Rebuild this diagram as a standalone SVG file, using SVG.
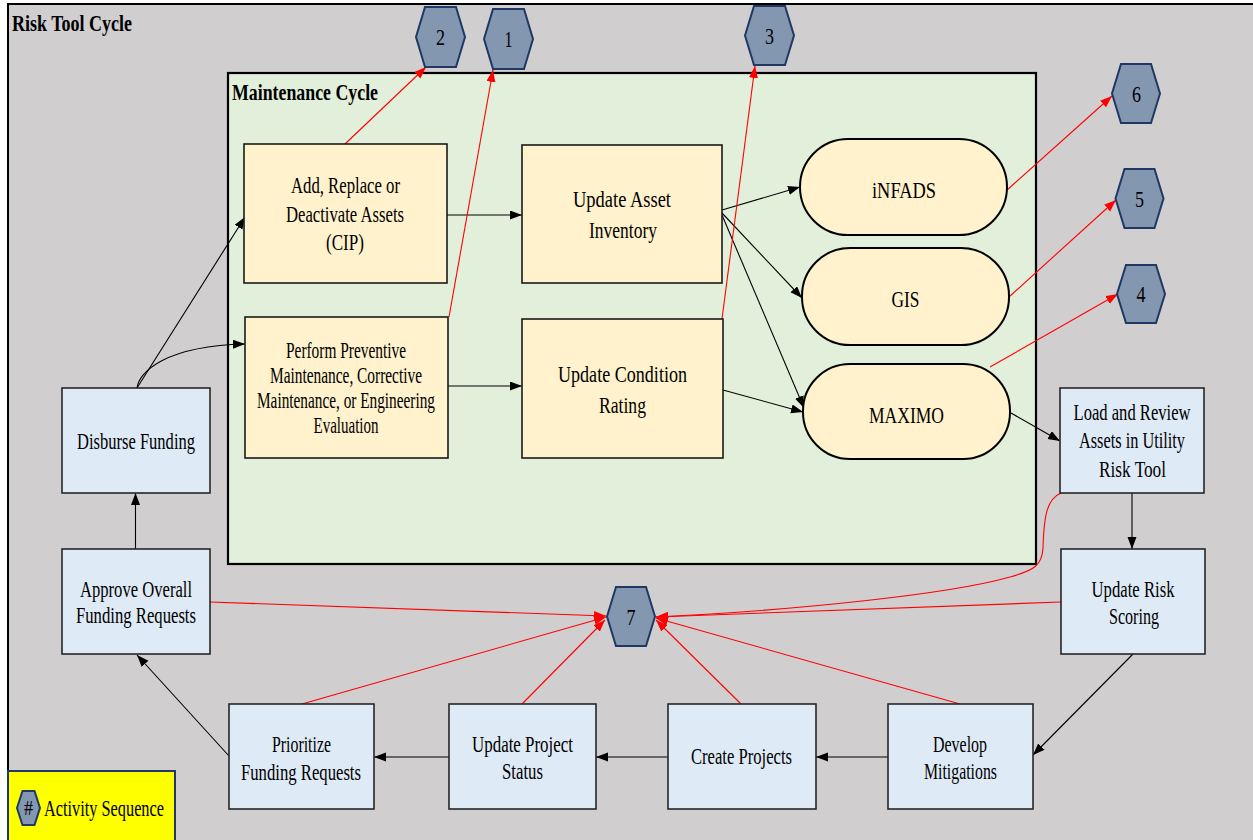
<svg xmlns="http://www.w3.org/2000/svg" width="1253" height="840" viewBox="0 0 1253 840">
  <style>
    .lbl { font-family: "Liberation Serif", "Times New Roman", serif; font-size: 24px; fill: #000; text-anchor: middle; }
    .sm { font-size: 23px; }
    .ttl { font-family: "Liberation Serif", "Times New Roman", serif; font-size: 23px; font-weight: bold; fill: #000; }
    .num { font-family: "Liberation Serif", "Times New Roman", serif; font-size: 24px; fill: #000; text-anchor: middle; }
    .task { fill: #FFF2CC; stroke: #1a1a1a; stroke-width: 1.6; }
    .sys { fill: #FFF2CC; stroke: #000; stroke-width: 2; }
    .step { fill: #DEEAF6; stroke: #262626; stroke-width: 1.6; }
    .hex { fill: #8497B0; stroke: #1F3864; stroke-width: 2; }
    .flow { fill: none; stroke: #000; stroke-width: 1.1; marker-end: url(#arrowBlack); }
    .seq { fill: none; stroke: #FF0000; stroke-width: 1.1; marker-end: url(#arrowRed); }
  </style>
  <defs>
    <marker id="arrowBlack" markerUnits="userSpaceOnUse" markerWidth="13" markerHeight="10" refX="12" refY="4.5" orient="auto">
      <path d="M0,0 L12,4.5 L0,9 z" fill="#000"/>
    </marker>
    <marker id="arrowRed" markerUnits="userSpaceOnUse" markerWidth="13" markerHeight="10" refX="12" refY="4.5" orient="auto">
      <path d="M0,0 L12,4.5 L0,9 z" fill="#FF0000"/>
    </marker>
  </defs>

  <rect width="1253" height="840" fill="#FFFFFF"/>

  <!-- outer risk tool frame -->
  <g id="risk-tool-cycle">
    <rect x="8" y="4" width="1260" height="850" fill="#D0CECF" stroke="#000" stroke-width="2"/>
    <text class="ttl" x="12" y="31" textLength="120" lengthAdjust="spacingAndGlyphs">Risk Tool Cycle</text>
  </g>

  <!-- maintenance cycle panel -->
  <g id="maintenance-cycle">
    <rect x="228" y="73" width="808" height="491" fill="#E2EFDA" stroke="#000" stroke-width="2.2"/>
    <text class="ttl" x="232" y="100" textLength="146" lengthAdjust="spacingAndGlyphs">Maintenance Cycle</text>
  </g>

  <!-- connectors -->
  <g id="connectors">
    <!-- process flow -->
    <line class="flow" x1="447" y1="215" x2="522" y2="215"/>
    <line class="flow" x1="448" y1="386" x2="522" y2="386"/>
    <line class="flow" x1="137" y1="388" x2="245" y2="217"/>
    <path class="flow" d="M137,388 C139,372 165,346 245,344"/>
    <line class="flow" x1="135.5" y1="549" x2="135.5" y2="493"/>
    <line class="flow" x1="229" y1="756" x2="137" y2="655"/>
    <line class="flow" x1="449" y1="757" x2="374" y2="757"/>
    <line class="flow" x1="668" y1="757" x2="596" y2="757"/>
    <line class="flow" x1="888" y1="757" x2="816" y2="757"/>
    <line class="flow" x1="1133" y1="654" x2="1033" y2="755"/>
    <line class="flow" x1="1132" y1="493" x2="1132" y2="549"/>
    <line class="flow" x1="1011" y1="413" x2="1060" y2="441"/>
    <line class="flow" x1="722" y1="210" x2="800" y2="187"/>
    <line class="flow" x1="722" y1="213" x2="802" y2="298"/>
    <line class="flow" x1="722" y1="215" x2="804" y2="408"/>
    <line class="flow" x1="723" y1="390" x2="803" y2="412"/>

    <!-- activity sequence links -->
    <line class="seq" x1="345" y1="144" x2="426" y2="67"/>
    <line class="seq" x1="449" y1="317" x2="493" y2="70"/>
    <line class="seq" x1="722" y1="319" x2="755" y2="66"/>
    <line class="seq" x1="1007" y1="190" x2="1112" y2="96"/>
    <line class="seq" x1="1009" y1="297" x2="1116" y2="200"/>
    <line class="seq" x1="990" y1="367" x2="1118" y2="294"/>
    <path class="seq" d="M1061,493 C1047,499 1044,515 1043,548 C1042,565 1035,570 1010,577 C950,594 800,610 656,617"/>
    <line class="seq" x1="1061" y1="602" x2="656" y2="617"/>
    <line class="seq" x1="960" y1="704" x2="656" y2="618"/>
    <line class="seq" x1="741" y1="704" x2="656" y2="620"/>
    <line class="seq" x1="522" y1="704" x2="605" y2="620"/>
    <line class="seq" x1="302" y1="704" x2="606" y2="617"/>
    <line class="seq" x1="210" y1="602" x2="606" y2="616"/>
  </g>

  <!-- maintenance tasks -->
  <g id="node-add-replace">
    <rect class="task" x="244" y="144" width="203" height="139"/>
    <text class="lbl" x="345.5" y="193" textLength="109" lengthAdjust="spacingAndGlyphs">Add, Replace or</text>
    <text class="lbl" x="345" y="222" textLength="118" lengthAdjust="spacingAndGlyphs">Deactivate  Assets</text>
    <text class="lbl" x="345" y="250" textLength="38" lengthAdjust="spacingAndGlyphs">(CIP)</text>
  </g>
  <g id="node-perform-maintenance">
    <rect class="task" x="245" y="317" width="203" height="141"/>
    <text class="lbl sm" x="346" y="358" textLength="120" lengthAdjust="spacingAndGlyphs">Perform Preventive</text>
    <text class="lbl sm" x="346" y="383" textLength="152" lengthAdjust="spacingAndGlyphs">Maintenance, Corrective</text>
    <text class="lbl sm" x="346" y="408" textLength="178" lengthAdjust="spacingAndGlyphs">Maintenance, or Engineering</text>
    <text class="lbl sm" x="346" y="433" textLength="65" lengthAdjust="spacingAndGlyphs">Evaluation</text>
  </g>
  <g id="node-update-asset-inventory">
    <rect class="task" x="522" y="145" width="200" height="138"/>
    <text class="lbl" x="622" y="207" textLength="98" lengthAdjust="spacingAndGlyphs">Update Asset</text>
    <text class="lbl" x="623" y="238" textLength="68" lengthAdjust="spacingAndGlyphs">Inventory</text>
  </g>
  <g id="node-update-condition-rating">
    <rect class="task" x="522" y="319" width="201" height="139"/>
    <text class="lbl" x="622.5" y="382" textLength="129" lengthAdjust="spacingAndGlyphs">Update Condition</text>
    <text class="lbl" x="622.5" y="413" textLength="47" lengthAdjust="spacingAndGlyphs">Rating</text>
  </g>

  <!-- systems of record -->
  <g id="node-infads">
    <rect class="sys" x="800" y="139" width="207" height="96" rx="48" ry="48"/>
    <text class="lbl" x="904" y="198" textLength="64" lengthAdjust="spacingAndGlyphs">iNFADS</text>
  </g>
  <g id="node-gis">
    <rect class="sys" x="802" y="248" width="207" height="97" rx="48" ry="48"/>
    <text class="lbl" x="905.5" y="307" textLength="28" lengthAdjust="spacingAndGlyphs">GIS</text>
  </g>
  <g id="node-maximo">
    <rect class="sys" x="803" y="364" width="207" height="95" rx="47" ry="47"/>
    <text class="lbl" x="906.5" y="423" textLength="75" lengthAdjust="spacingAndGlyphs">MAXIMO</text>
  </g>

  <!-- risk tool steps -->
  <g id="node-disburse-funding">
    <rect class="step" x="62" y="388" width="148" height="105"/>
    <text class="lbl" x="136" y="449" textLength="118" lengthAdjust="spacingAndGlyphs">Disburse  Funding</text>
  </g>
  <g id="node-approve-funding">
    <rect class="step" x="62" y="549" width="148" height="105"/>
    <text class="lbl" x="136" y="597" textLength="112" lengthAdjust="spacingAndGlyphs">Approve  Overall</text>
    <text class="lbl" x="136" y="623" textLength="120" lengthAdjust="spacingAndGlyphs">Funding  Requests</text>
  </g>
  <g id="node-load-review">
    <rect class="step" x="1060" y="388" width="144" height="105"/>
    <text class="lbl" x="1132" y="420" textLength="117" lengthAdjust="spacingAndGlyphs">Load and Review</text>
    <text class="lbl" x="1132" y="448" textLength="106" lengthAdjust="spacingAndGlyphs">Assets in Utility</text>
    <text class="lbl" x="1132.5" y="477" textLength="67" lengthAdjust="spacingAndGlyphs">Risk Tool</text>
  </g>
  <g id="node-update-risk-scoring">
    <rect class="step" x="1061" y="549" width="144" height="105"/>
    <text class="lbl" x="1133" y="597" textLength="83" lengthAdjust="spacingAndGlyphs">Update Risk</text>
    <text class="lbl" x="1134" y="624" textLength="50" lengthAdjust="spacingAndGlyphs">Scoring</text>
  </g>
  <g id="node-develop-mitigations">
    <rect class="step" x="888" y="704" width="145" height="105"/>
    <text class="lbl" x="960" y="752" textLength="54" lengthAdjust="spacingAndGlyphs">Develop</text>
    <text class="lbl" x="960.5" y="779" textLength="73" lengthAdjust="spacingAndGlyphs">Mitigations</text>
  </g>
  <g id="node-create-projects">
    <rect class="step" x="668" y="704" width="148" height="105"/>
    <text class="lbl" x="741.5" y="764" textLength="101" lengthAdjust="spacingAndGlyphs">Create Projects</text>
  </g>
  <g id="node-update-project-status">
    <rect class="step" x="449" y="704" width="147" height="105"/>
    <text class="lbl" x="522.5" y="752" textLength="101" lengthAdjust="spacingAndGlyphs">Update  Project</text>
    <text class="lbl" x="522.5" y="779" textLength="41" lengthAdjust="spacingAndGlyphs">Status</text>
  </g>
  <g id="node-prioritize-funding">
    <rect class="step" x="229" y="704" width="145" height="105"/>
    <text class="lbl" x="301.5" y="752" textLength="59" lengthAdjust="spacingAndGlyphs">Prioritize</text>
    <text class="lbl" x="301" y="780" textLength="120" lengthAdjust="spacingAndGlyphs">Funding  Requests</text>
  </g>

  <!-- activity sequence markers -->
  <g id="seq-1">
    <polygon class="hex" points="484,39 493,9 524,9 533,39 524,69 493,69"/>
    <text class="num" x="508.5" y="47" textLength="8" lengthAdjust="spacingAndGlyphs">1</text>
  </g>
  <g id="seq-2">
    <polygon class="hex" points="416,37 425,7 456,7 465,37 456,67 425,67"/>
    <text class="num" x="440.5" y="45" textLength="9" lengthAdjust="spacingAndGlyphs">2</text>
  </g>
  <g id="seq-3">
    <polygon class="hex" points="745,35.5 754,6 785,6 794,35.5 785,65 754,65"/>
    <text class="num" x="769.5" y="43.5" textLength="9" lengthAdjust="spacingAndGlyphs">3</text>
  </g>
  <g id="seq-4">
    <polygon class="hex" points="1117,294 1126,265 1156,265 1165,294 1156,323 1126,323"/>
    <text class="num" x="1141" y="302" textLength="9" lengthAdjust="spacingAndGlyphs">4</text>
  </g>
  <g id="seq-5">
    <polygon class="hex" points="1115.5,198.5 1124.5,169 1154.5,169 1163.5,198.5 1154.5,228 1124.5,228"/>
    <text class="num" x="1139.5" y="206.5" textLength="9" lengthAdjust="spacingAndGlyphs">5</text>
  </g>
  <g id="seq-6">
    <polygon class="hex" points="1112,93.5 1121,64 1151,64 1160,93.5 1151,123 1121,123"/>
    <text class="num" x="1136.5" y="101.5" textLength="9" lengthAdjust="spacingAndGlyphs">6</text>
  </g>
  <g id="seq-7">
    <polygon class="hex" points="607,616.5 616,587 646,587 655,616.5 646,646 616,646"/>
    <text class="num" x="631" y="624.5" textLength="9" lengthAdjust="spacingAndGlyphs">7</text>
  </g>

  <!-- legend -->
  <g id="legend">
    <rect x="8" y="771" width="167" height="80" fill="#FFFF00" stroke="#1F3864" stroke-width="2"/>
    <polygon class="hex" points="17,808 22.5,791 34.5,791 40,808 34.5,825 22.5,825" stroke-width="1.5"/>
    <text class="num" x="28.5" y="815" style="font-size:21px" textLength="9" lengthAdjust="spacingAndGlyphs">#</text>
    <text class="lbl" x="104" y="816" textLength="120" lengthAdjust="spacingAndGlyphs">Activity Sequence</text>
  </g>
</svg>
